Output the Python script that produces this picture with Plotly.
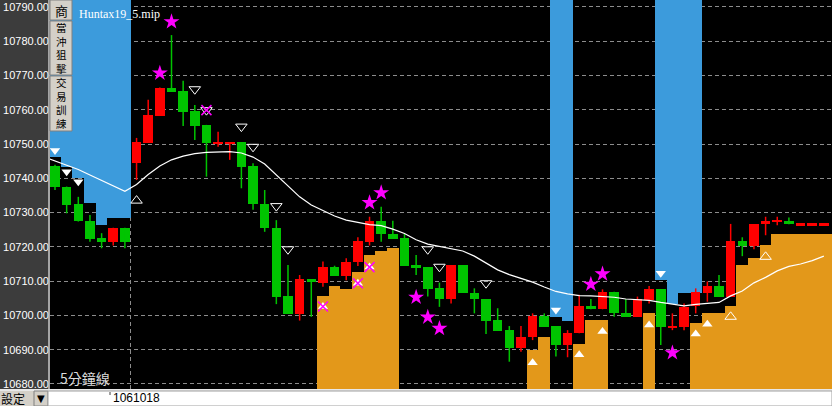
import plotly.graph_objects as go

# ---------------- data ----------------
idx = list(range(67))
opens = [10743.6, 10737.4, 10732.5, 10727.6, 10722.7, 10721.5, 10725.6, 10744.4, 10750.4, 10758.2,
         10766.5, 10765.5, 10759.7, 10755.6, 10750.3, 10750.3, 10750.5, 10743.6, 10732.5, 10725.6,
         10705.8, 10700.4, 10710.6, 10709.6, 10714.0, 10711.6, 10715.5, 10721.3, 10727.6, 10723.8,
         10722.5, 10714.7, 10714.0, 10707.9, 10704.7, 10714.7, 10706.6, 10704.8, 10698.7, 10695.7,
         10690.6, 10693.6, 10699.8, 10696.9, 10691.4, 10694.8, 10702.8, 10701.8, 10706.9, 10700.6,
         10699.6, 10704.5, 10707.6, 10696.6, 10696.7, 10702.8, 10706.6, 10708.6, 10705.5, 10721.8,
         10720.4, 10726.6, 10727.5, 10727.6, 10726.6, 10726.6, 10726.6]
highs = [10744.0, 10737.6, 10734.6, 10729.3, 10724.0, 10725.6, 10725.6, 10751.8, 10762.9, 10766.5,
         10781.8, 10768.5, 10761.4, 10755.6, 10753.6, 10750.5, 10750.5, 10744.4, 10736.6, 10727.8,
         10714.7, 10711.8, 10710.6, 10715.7, 10714.5, 10716.7, 10722.8, 10728.8, 10731.7, 10727.6,
         10723.8, 10717.6, 10714.0, 10709.6, 10714.7, 10714.7, 10707.9, 10704.8, 10702.1, 10696.9,
         10696.9, 10700.6, 10700.6, 10696.9, 10695.7, 10706.0, 10704.8, 10707.6, 10706.9, 10704.7,
         10705.5, 10708.6, 10707.6, 10700.6, 10703.5, 10707.9, 10709.9, 10711.8, 10726.7, 10722.8,
         10726.7, 10728.8, 10728.8, 10728.6, 10726.6, 10726.6, 10726.6]
lows = [10736.6, 10729.8, 10727.4, 10721.5, 10719.6, 10720.4, 10719.6, 10739.5, 10750.4, 10758.2,
        10765.3, 10755.3, 10751.2, 10740.5, 10749.2, 10745.4, 10737.1, 10730.8, 10724.4, 10703.3,
        10700.4, 10698.5, 10699.6, 10708.4, 10711.6, 10710.3, 10714.4, 10720.4, 10721.5, 10722.3,
        10714.5, 10711.8, 10705.5, 10702.5, 10703.5, 10706.6, 10700.6, 10694.6, 10695.5, 10686.5,
        10689.4, 10692.8, 10696.7, 10688.0, 10687.8, 10694.8, 10701.8, 10701.8, 10699.6, 10699.6,
        10699.6, 10703.5, 10691.4, 10695.7, 10695.7, 10700.6, 10704.0, 10705.5, 10705.5, 10717.3,
        10719.3, 10723.4, 10726.3, 10726.6, 10726.6, 10726.6, 10726.6]
closes = [10737.6, 10732.2, 10727.6, 10722.3, 10721.5, 10725.6, 10721.5, 10750.7, 10758.5, 10766.5,
          10765.3, 10759.4, 10755.3, 10750.4, 10750.5, 10750.5, 10743.4, 10732.4, 10725.4, 10705.5,
          10700.4, 10710.6, 10709.7, 10714.0, 10711.6, 10715.7, 10721.8, 10727.6, 10723.7, 10722.3,
          10714.5, 10713.7, 10707.6, 10704.7, 10714.7, 10706.6, 10704.7, 10698.5, 10695.5, 10690.6,
          10693.8, 10699.8, 10696.7, 10691.4, 10695.0, 10702.8, 10701.8, 10706.9, 10700.6, 10699.6,
          10704.7, 10707.6, 10696.7, 10696.8, 10702.5, 10706.9, 10708.6, 10705.5, 10721.7, 10720.4,
          10726.7, 10727.6, 10727.7, 10726.6, 10726.6, 10726.6, 10726.6]

ma_idx = list(range(-1, 67))
ma_vals = [10746.3, 10745.1, 10743.8, 10742.6, 10741.0, 10739.4, 10737.6, 10736.2, 10738.2, 10741.1,
           10743.6, 10745.4, 10746.5, 10747.2, 10747.6, 10747.8, 10747.8, 10747.4, 10746.2, 10744.2,
           10741.0, 10737.5, 10734.6, 10732.2, 10730.5, 10729.0, 10727.8, 10727.2, 10726.5, 10726.2,
           10725.2, 10723.9, 10722.1, 10720.8, 10720.1, 10719.4, 10718.8, 10717.3, 10715.3, 10713.3,
           10711.9, 10710.8, 10709.7, 10708.3, 10707.0, 10706.3, 10705.8, 10705.7, 10705.5, 10705.3,
           10704.8, 10704.6, 10704.4, 10703.8, 10703.2, 10702.8, 10703.2, 10703.5, 10703.8, 10705.7,
           10707.1, 10709.5, 10711.1, 10713.0, 10714.3, 10715.0, 10716.0, 10717.3]

resist_idx = [0, 1, 2, 3, 4, 5, 6, 43, 44, 52, 53, 54, 55]
resist_vals = [10746.3, 10743.2, 10740.2, 10732.7, 10726.4, 10728.5, 10728.5,
               10699.6, 10698.5, 10710.3, 10703.3, 10706.5, 10706.5]

support_idx = [23, 24, 25, 26, 27, 28, 29, 41, 42, 45, 46, 47, 51,
               55, 56, 57, 58, 59, 60, 61, 62, 63, 64, 65, 66, 67]
support_vals = [10705.7, 10708.6, 10707.6, 10712.8, 10717.6, 10718.9, 10719.8,
                10690.0, 10693.8, 10691.7, 10698.7, 10698.7, 10700.6,
                10697.9, 10700.8, 10700.8, 10702.8, 10714.7, 10716.8, 10720.5,
                10723.8, 10723.8, 10723.8, 10723.8, 10723.8, 10723.8]

sell_fill_idx = [0, 1, 2, 43, 52]
sell_fill_px = [10748.1, 10741.9, 10739.0, 10701.6, 10712.3]
sell_open_idx = [12, 16, 17, 19, 20, 32, 33, 37]
sell_open_px = [10766.0, 10755.1, 10749.2, 10731.9, 10719.3, 10719.3, 10714.2, 10709.4]
sell_cross_idx = [13]
sell_cross_px = [10759.9]
buy_fill_idx = [41, 45, 47, 51, 55, 56]
buy_fill_px = [10686.2, 10688.5, 10695.3, 10697.2, 10694.6, 10697.4]
buy_open_idx = [7, 58, 61]
buy_open_px = [10733.5, 10699.6, 10717.1]
buy_cross_idx = [23, 26, 27]
buy_cross_px = [10702.6, 10709.4, 10714.1]
star_idx = [9, 10, 27, 28, 31, 32, 33, 46, 47, 53]
star_px = [10770.7, 10785.7, 10732.9, 10735.8, 10705.3, 10699.5, 10696.2, 10709.1, 10712.1, 10689.1]

y_ticks = [10680 + 10 * k for k in range(12)]
y_tick_text = [f"{v:.2f}" for v in y_ticks]
session_split = [6.5]
date_label = "1061018"

# ---------------- styles ----------------
RED = "#ff0000"
GREEN = "#00c400"
BLUE = "#3c9bdc"
ORANGE = "#e3981a"
MAGENTA = "#ff00ff"
GRID = "#8c8c8c"
Y_LO, Y_HI = 10678.24, 10792.04
W, H = 832, 406
L_M, B_M = 50, 16
PW, PH = W - L_M, H - B_M


def px_x(x):
    return (x - L_M) / PW


def px_y(y):
    return (PH - y) / PH


fig = go.Figure()

# resistance (blue, from top) and support (orange, from bottom)
fig.add_trace(go.Bar(x=resist_idx, base=resist_vals,
                     y=[Y_HI + 10 - v for v in resist_vals],
                     width=1.0, marker=dict(color=BLUE, line=dict(width=0)), hoverinfo="skip"))
fig.add_trace(go.Bar(x=support_idx, base=[Y_LO - 10] * len(support_vals),
                     y=[v - (Y_LO - 10) for v in support_vals],
                     width=1.0, marker=dict(color=ORANGE, line=dict(width=0)), hoverinfo="skip"))

# candles
MIN_BODY = 0.55
up = [c >= o for o, c in zip(opens, closes)]
body_base, body_h = [], []
for o, c in zip(opens, closes):
    h = abs(c - o)
    if h < MIN_BODY:
        body_base.append((o + c) / 2 - MIN_BODY / 2)
        body_h.append(MIN_BODY)
    else:
        body_base.append(min(o, c))
        body_h.append(h)

for flag, col in ((True, RED), (False, GREEN)):
    wx, wy = [], []
    for i, u, hi, lo in zip(idx, up, highs, lows):
        if u == flag:
            wx += [i, i, None]
            wy += [lo, hi, None]
    fig.add_trace(go.Scatter(x=wx, y=wy, mode="lines", line=dict(color=col, width=1.5),
                             hoverinfo="skip"))

fig.add_trace(go.Bar(x=idx, base=body_base, y=body_h, width=0.82,
                     marker=dict(color=[RED if u else GREEN for u in up], line=dict(width=0)),
                     hoverinfo="skip"))

# moving average
fig.add_trace(go.Scatter(x=ma_idx, y=ma_vals, mode="lines",
                         line=dict(color="#ffffff", width=1.2), hoverinfo="skip"))


# signals
def mk(xs, ys, symbol, color, size, lw=1):
    fig.add_trace(go.Scatter(x=xs, y=ys, mode="markers",
                             marker=dict(symbol=symbol, color=color, size=size,
                                         line=dict(color=color, width=lw)),
                             hoverinfo="skip"))


mk(sell_fill_idx, sell_fill_px, "triangle-down", "#ffffff", 9, 0)
mk(sell_open_idx, sell_open_px, "triangle-down-open", "#ffffff", 10, 1)
mk(sell_cross_idx, sell_cross_px, "triangle-down-open", "#ffffff", 10, 1)
mk(sell_cross_idx, sell_cross_px, "x-thin-open", MAGENTA, 10, 1.5)
mk(buy_fill_idx, buy_fill_px, "triangle-up", "#ffffff", 9, 0)
mk(buy_open_idx, buy_open_px, "triangle-up-open", "#ffffff", 10, 1)
mk(buy_cross_idx, buy_cross_px, "triangle-up", "#ffffff", 9, 0)
mk(buy_cross_idx, buy_cross_px, "x-thin-open", MAGENTA, 10, 1.5)
mk(star_idx, star_px, "star", MAGENTA, 12, 0)

# ---------------- layout ----------------
fig.update_layout(
    width=W, height=H,
    margin=dict(l=L_M, r=0, t=0, b=B_M, pad=0, autoexpand=False),
    paper_bgcolor="#3c3c3c", plot_bgcolor="#000000",
    showlegend=False, barmode="overlay", bargap=0,
)
fig.update_xaxes(range=[-0.43, 66.7], tickvals=session_split, showticklabels=False,
                 showgrid=True, gridcolor=GRID, griddash="4px,3px", gridwidth=1,
                 zeroline=False, showline=False, ticks="", automargin=False)
fig.update_yaxes(range=[Y_LO, Y_HI], tickvals=y_ticks, ticktext=y_tick_text,
                 tickfont=dict(family="Liberation Sans, Arial", size=11, color="#ffffff"),
                 showgrid=True, gridcolor=GRID, griddash="4px,3px", gridwidth=1,
                 zeroline=False, showline=False, ticks="", automargin=False)

shapes = []
annos = []
BTN = "#d4d0c8"


def rect(x0, y0, x1, y1, fill, line=None, lw=0):
    shapes.append(dict(type="rect", xref="paper", yref="paper",
                       x0=px_x(x0), x1=px_x(x1), y0=px_y(y1), y1=px_y(y0),
                       fillcolor=fill, line=dict(color=line or fill, width=lw), layer="above"))


def txt(x, y, s, size, color, family, xanchor="left"):
    annos.append(dict(xref="paper", yref="paper", x=px_x(x), y=px_y(y), text=s,
                      showarrow=False, xanchor=xanchor, yanchor="middle",
                      font=dict(size=size, color=color, family=family)))


CJK = "Noto Sans CJK TC"
# separator between axis labels and plot
shapes.append(dict(type="line", xref="paper", yref="paper", x0=px_x(49), x1=px_x(49),
                   y0=px_y(390), y1=px_y(0), line=dict(color="#c8c8c8", width=1.5), layer="above"))
# toolbar buttons
rect(50, 0, 72, 20, BTN, "#808080", 1)
rect(50, 21, 72, 75, BTN, "#808080", 1)
rect(50, 76, 72, 131, BTN, "#808080", 1)
txt(61, 10.5, "商", 13, "#000000", CJK, "center")
txt(61, 48, "<br>".join("當沖狙擊"), 10.5, "#000000", CJK, "center")
txt(61, 103.5, "<br>".join("交易訓練"), 10.5, "#000000", CJK, "center")

txt(77, 14, "Huntax19_5.mip", 12, "#ffffff", "Liberation Serif, Times New Roman")
txt(58, 378, "5分鐘線", 14, "#dcdcdc", CJK)

# bottom bar
rect(0, 389, 832, 391, "#e8e8e8")
rect(0, 391, 34, 406, BTN)
txt(-1, 398.5, "設定", 12, "#000000", CJK)
rect(34, 391, 48, 406, BTN, "#808080", 1)
txt(41, 398.5, "▼", 10, "#000000", "DejaVu Sans", "center")
rect(48, 391, 832, 406, "#ffffff", "#a0a0a0", 1)
shapes.append(dict(type="line", xref="paper", yref="paper", x0=px_x(110), x1=px_x(110),
                   y0=px_y(395), y1=px_y(392), line=dict(color="#404040", width=1), layer="above"))
txt(111, 398.5, date_label, 12, "#000000", "Liberation Sans, Arial")

fig.update_layout(shapes=shapes, annotations=annos)
fig.write_html("out.html", config={"displayModeBar": False},
               post_script="document.body.style.margin='0px';document.body.style.overflow='hidden';")
